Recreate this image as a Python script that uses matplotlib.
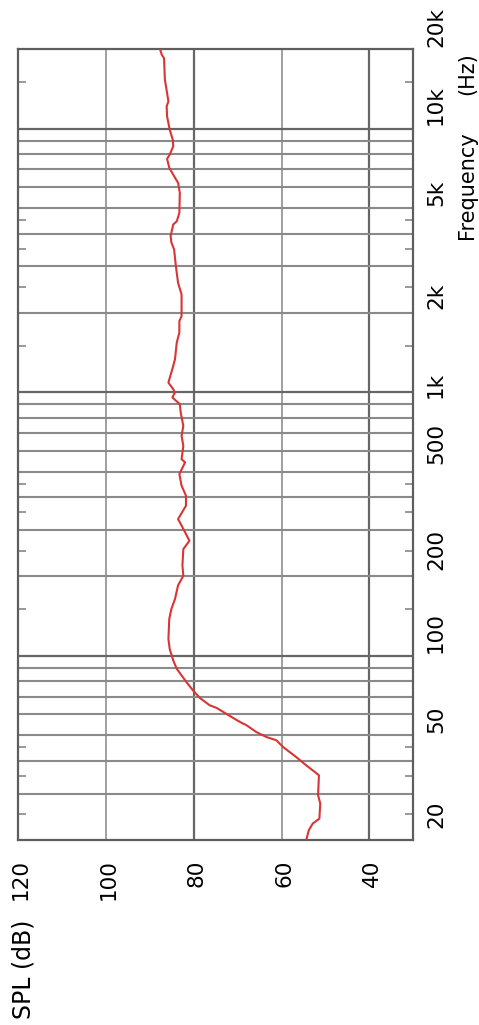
import matplotlib
matplotlib.use("Agg")
import matplotlib.pyplot as plt
from matplotlib.ticker import NullFormatter, NullLocator
from matplotlib.transforms import ScaledTranslation

freq_hz = [20, 21.8, 23.1, 24.1, 27.5, 29.6, 35.2, 36.3, 38.4, 41.3, 45.1, 47.8,
           49.2, 51.4, 54.5, 56.1, 59.1, 63.4, 64.9, 69.1, 73.9, 79.5, 84.2, 89.3,
           96, 106, 116, 138, 151, 164, 185, 201, 220, 254, 273, 294, 312, 330,
           371, 405, 442, 489, 542, 557, 626, 683, 745, 838, 901, 955, 997, 1026,
           1088, 1258, 1334, 1433, 1542, 1683, 1862, 1945, 2350, 2600, 3010, 3480,
           3690, 3910, 4330, 4450, 4790, 5710, 6230, 6690, 7100, 7680, 7970, 8570,
           9080, 9910, 11130, 12150, 12690, 13650, 15330, 18520, 19050, 20000]
spl_db = [54.4, 53.8, 52.9, 51.4, 51.2, 51.7, 51.5, 52.5, 54.4, 56.7, 59.7, 61.2,
          63.5, 65.8, 68.0, 69.5, 71.8, 74.8, 76.4, 78.6, 80.2, 81.7, 82.8, 83.9,
          84.7, 85.5, 85.8, 85.6, 85.1, 84.3, 83.6, 82.4, 82.6, 82.4, 81.0, 82.0, 82.8, 83.6,
          81.8, 81.8, 82.8, 83.3, 82.0, 82.8, 82.4, 82.8, 82.4, 83.0, 83.2, 84.9, 84.3, 84.7,
          85.8, 84.7, 84.3, 84.1, 83.9, 83.3, 83.3, 82.8, 82.8, 83.6, 84.1, 84.5,
          85.1, 85.3, 84.7, 83.9, 83.3, 83.2, 83.6, 84.7, 85.6, 86.1, 85.5, 84.7,
          84.8, 85.5, 86.1, 86.2, 85.8, 86.1, 86.6, 86.8, 87.3, 87.7]

spl_ticks = [120, 100, 80, 60, 40]
spl_light = [100, 60]
spl_dark = [80, 40]
freq_grid = [30, 40, 50, 60, 70, 80, 90, 200, 300, 400, 500, 600, 700, 800, 900,
             2000, 3000, 4000, 5000, 6000, 7000, 8000, 9000]
freq_decades = [100, 1000, 10000]
freq_minor_ticks = [25, 35, 45, 150, 250, 350, 450, 1500, 2500, 3500, 4500, 15000]
freq_labels = ["20", "50", "100", "200", "500", "1k", "2k", "5k", "10k", "20k"]
# where the labels sit in the original (they are not on the grid lines)
freq_label_at = [25, 57.2, 122, 252, 641, 1063, 2310, 5720, 12330, 24350]

W, H = 479, 1025
fig = plt.figure(figsize=(W / 100, H / 100), dpi=100)
ax = fig.add_axes([18.3 / W, (H - 840) / H, 395 / W, 790.7 / H])
ax.set_yscale("log")

for v in spl_light:
    ax.axvline(v, color="#a0a0a0", lw=1.4, zorder=1)
for v in spl_dark:
    ax.axvline(v, color="#666666", lw=1.6, zorder=1)
for f in freq_grid:
    ax.axhline(f, color="#8a8a8a", lw=1.5, zorder=1)
for f in freq_decades:
    ax.axhline(f, color="#666666", lw=1.6, zorder=1)

ax.plot(spl_db, freq_hz, color="#d93535", lw=1.5, zorder=3)

for s in ax.spines.values():
    s.set_color("#5e5e5e")
    s.set_linewidth(1.6)

ax.set_xticks(spl_ticks, [str(v) for v in spl_ticks])
ax.tick_params(axis="x", length=0, labelrotation=90, pad=14, labelsize=15.5)
shift = ScaledTranslation(2.5 / 100, 0, fig.dpi_scale_trans)
for lab in ax.get_xticklabels():
    lab.set_transform(lab.get_transform() + shift)

ax.yaxis.set_major_locator(NullLocator())
ax.set_yticks(freq_minor_ticks, minor=True)
ax.yaxis.set_minor_formatter(NullFormatter())
ax.tick_params(axis="y", which="minor", direction="in", length=6, width=1.4,
               color="#999999", left=True, right=True, labelleft=False)

ax.set_xlim(120, 30)
ax.set_ylim(20, 20000)

lab_x = 1 + (426 - 413.3) / 395
for lab, f in zip(freq_labels, freq_label_at):
    ax.text(lab_x, f, lab, transform=ax.get_yaxis_transform(), rotation=90,
            ha="left", va="center", fontsize=15.5, clip_on=False)

fig.text(477 / W, 1 - 185 / H, "Frequency", rotation=90, ha="right", va="center",
         fontsize=15)
fig.text(477 / W, 1 - 73.5 / H, "(Hz)", rotation=90, ha="right", va="center",
         fontsize=15)
fig.text(12 / W, 1 - 969.5 / H, "SPL (dB)", rotation=90, ha="left", va="center",
         fontsize=17)

fig.savefig("out.png", dpi=100)
